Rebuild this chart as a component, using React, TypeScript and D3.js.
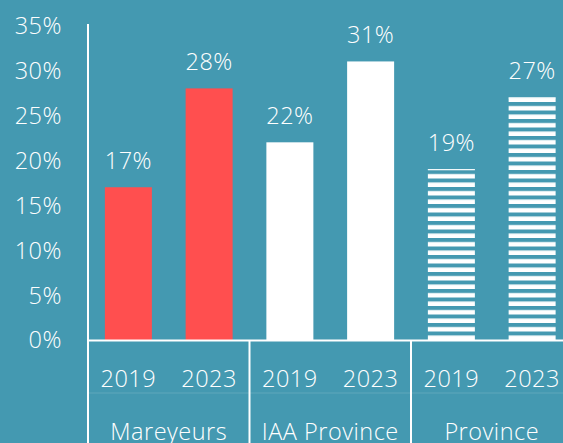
import React from "react";
import * as d3 from "d3";

const groups = ["Mareyeurs", "IAA Province", "Province"];
const years = ["2019", "2023"];
const values = [17, 28, 22, 31, 19, 27];
const yTicks = [0, 5, 10, 15, 20, 25, 30, 35];

const W = 563;
const H = 443;
const BG = "#4499B1";
const RED = "#FF4F4F";
const FONT = "'Open Sans', 'Noto Sans', sans-serif";
const FS = 23.5;
const LS = 0.5;

export default function App() {
  const keys = values.map((_, i) => `${groups[Math.floor(i / 2)]}-${years[i % 2]}`);
  const x = d3.scaleBand<string>().domain(keys).range([88, 572.5]).paddingInner(0.418).paddingOuter(0.209);
  const y = d3.scaleLinear().domain([0, 35]).range([340, 25.5]);
  const groupW = (572.5 - 88) / 3;
  const fills = [RED, RED, "#ffffff", "#ffffff", "url(#stripes)", "url(#stripes)"];
  const txt = { fill: "#fff", fontFamily: FONT, fontWeight: 300, fontSize: FS, letterSpacing: LS } as const;

  return (
    <svg width={W} height={H} style={{ position: "fixed", left: 0, top: 0, display: "block" }}>
      <defs>
        <pattern id="stripes" patternUnits="userSpaceOnUse" x={0} y={340} width={10} height={8.5}>
          <rect x={0} y={4} width={10} height={4.5} fill="#ffffff" />
        </pattern>
      </defs>
      <rect x={0} y={0} width={W} height={H} fill={BG} />
      {yTicks.map((t) => (
        <text key={t} x={62} y={y(t)} dy="0.36em" textAnchor="end" {...txt}>
          {t}%
        </text>
      ))}
      {values.map((v, i) => {
        const k = keys[i];
        const bx = x(k)!;
        const bw = x.bandwidth();
        return (
          <g key={k}>
            <rect x={bx} y={y(v)} width={bw} height={340 - y(v)} fill={fills[i]} />
            {i >= 4 && <line x1={bx} x2={bx + bw} y1={y(v) + 0.5} y2={y(v) + 0.5} stroke="#fff" strokeWidth={1} />}
            <text x={bx + bw / 2} y={y(v) - 18} textAnchor="middle" {...txt}>
              {v}%
            </text>
            <text x={bx + bw / 2} y={387} textAnchor="middle" {...txt}>
              {years[i % 2]}
            </text>
          </g>
        );
      })}
      {groups.map((g, gi) => (
        <text key={g} x={88 + groupW * gi + groupW / 2} y={440} textAnchor="middle" {...txt}>
          {g}
        </text>
      ))}
      <line x1={88} x2={563} y1={393} y2={393} stroke="#fff" strokeOpacity={0.15} strokeWidth={1} />
      <line x1={88} x2={563} y1={340.5} y2={340.5} stroke="#fff" strokeWidth={2} />
      <line x1={88} x2={88} y1={24} y2={443} stroke="#fff" strokeWidth={2} />
      {[1, 2].map((gi) => (
        <line key={gi} x1={88 + groupW * gi} x2={88 + groupW * gi} y1={340} y2={443} stroke="#fff" strokeWidth={2} />
      ))}
    </svg>
  );
}
